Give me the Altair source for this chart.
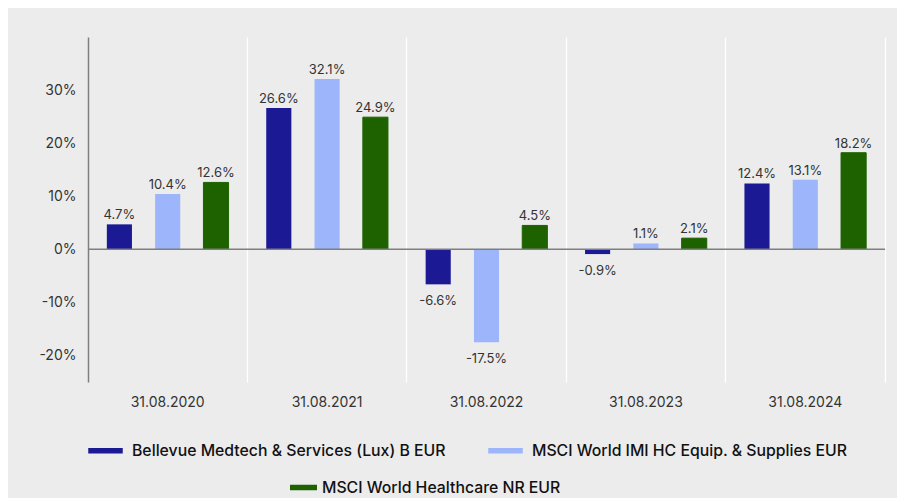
import altair as alt
import pandas as pd

# ---- data ----
dates = ["31.08.2020", "31.08.2021", "31.08.2022", "31.08.2023", "31.08.2024"]
series = [
    "Bellevue Medtech & Services (Lux) B EUR",
    "MSCI World IMI HC Equip. & Supplies EUR",
    "MSCI World Healthcare NR EUR",
]
fund_values = [4.7, 26.6, -6.6, -0.9, 12.4]
equip_values = [10.4, 32.1, -17.5, 1.1, 13.1]
health_values = [12.6, 24.9, 4.5, 2.1, 18.2]
colors = ["#1b1994", "#9db5fa", "#1e6200"]
y_ticks = [-20, -10, 0, 10, 20, 30]
y_domain = [-25, 40]
zero_line = [0]

rows = []
for s, vals in zip(series, [fund_values, equip_values, health_values]):
    for d, v in zip(dates, vals):
        rows.append({"date": d, "series": s, "value": v, "label": f"{v:.1f}%"})
df = pd.DataFrame(rows)

FONT = "Inter"
TXT = "#333333"

base = alt.Chart(df)

x_bottom = alt.X(
    "date:N", sort=dates, title=None,
    scale=alt.Scale(paddingInner=0, paddingOuter=0),
    axis=alt.Axis(orient="bottom", labelAngle=0, labelFont=FONT, labelFontSize=14,
                  labelColor=TXT, labelPadding=13, ticks=False, domain=False, grid=False),
)
x_plain = alt.X("date:N", sort=dates, title=None, axis=None)
x_top = alt.X(
    "date:N", sort=dates, title=None,
    axis=alt.Axis(orient="top", labels=False, ticks=False, domain=False, grid=True,
                  bandPosition=1, gridColor="#ffffff", gridWidth=1.3, gridOpacity=1),
)
xoff = alt.XOffset("series:N", sort=series,
                   scale=alt.Scale(paddingInner=0.48, paddingOuter=0.39))
y_axis = alt.Axis(values=y_ticks, labelExpr="datum.value + '%'", labelFont=FONT,
                  labelFontSize=14, labelColor=TXT, labelPadding=12, ticks=False,
                  grid=False, domain=True, domainColor="#7f7f7f", domainWidth=1.5,
                  title=None)
y_scale = alt.Scale(domain=y_domain, nice=False, zero=False)
y = alt.Y("value:Q", title=None, scale=y_scale, axis=y_axis)

legend_common = dict(
    orient="none", title=None, direction="horizontal", padding=0,
    labelFont=FONT, labelFontSize=15.8, labelFontWeight=500, labelColor="#111111",
    labelLimit=500,
)

bars = base.mark_bar().encode(
    x=x_bottom, xOffset=xoff, y=y,
    fill=alt.Fill(
        "series:N", scale=alt.Scale(domain=series, range=colors),
        legend=alt.Legend(values=series[:2], legendX=0, legendY=396,
                          symbolType="M-1,-0.16L1,-0.16L1,0.16L-1,0.16Z",
                          symbolSize=1190, symbolStrokeWidth=0, columnPadding=42,
                          labelOffset=9, **legend_common),
    ),
    stroke=alt.Stroke(
        "series:N", scale=alt.Scale(domain=series[2:], range=colors[2:]),
        legend=alt.Legend(legendX=199, legendY=434, symbolType="stroke",
                          symbolSize=729, symbolStrokeWidth=5.5, labelOffset=2,
                          **legend_common),
    ),
)

zero = alt.Chart(pd.DataFrame({"value": zero_line})).mark_rule(
    color="#7f7f7f", strokeWidth=1.5
).encode(y=y)

pos = base.transform_filter("datum.value >= 0").mark_text(
    baseline="alphabetic", dy=-5, font=FONT, fontSize=13, color=TXT
).encode(x=x_plain, xOffset=xoff, y=y, text="label:N")

neg = base.transform_filter("datum.value < 0").mark_text(
    baseline="alphabetic", dy=21, font=FONT, fontSize=13, color=TXT
).encode(x=x_top, xOffset=xoff, y=y, text="label:N")

chart = (
    alt.layer(bars, zero, pos, neg)
    .resolve_axis(x="independent")
    .properties(
        width=797, height=345, background="#ececec",
        padding={"left": 80, "top": 29, "right": 12, "bottom": 116},
        autosize=alt.AutoSizeParams(type="none"),
    )
    .configure_view(stroke=None)
)

chart.save("out.html", embed_options={"renderer": "svg", "actions": False})
